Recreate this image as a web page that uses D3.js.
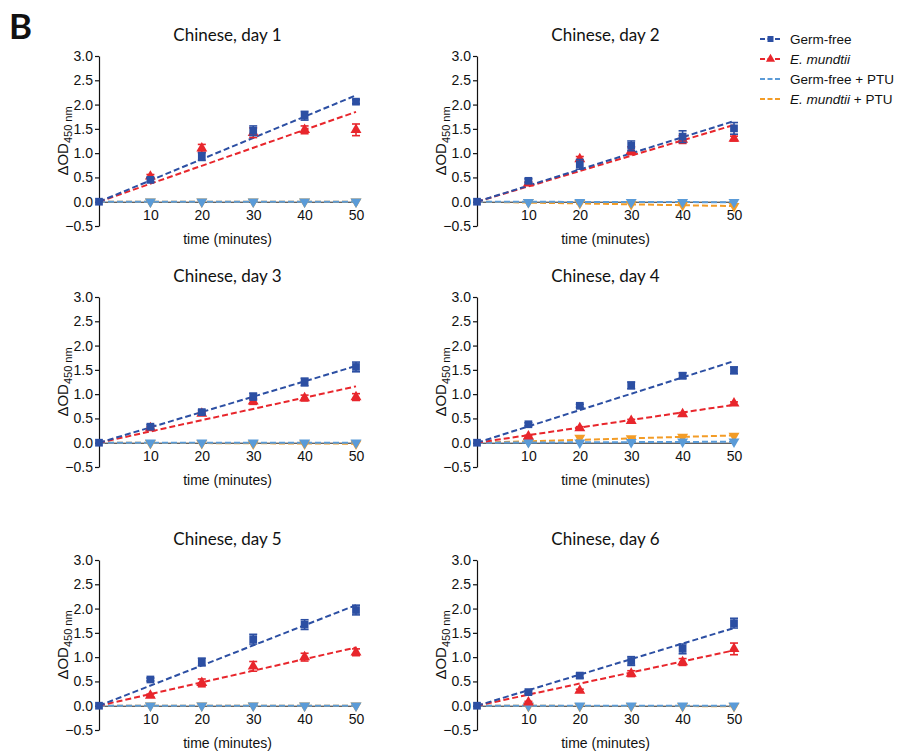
<!DOCTYPE html>
<html>
<head>
<meta charset="utf-8">
<script src="https://cdn.jsdelivr.net/npm/d3@7"></script>
<style>
  body { margin: 0; background: #fff; }
  svg { display: block; }
  text { font-family: "Liberation Sans", Arial, sans-serif; fill: #111; }
  .title { font-family: Lato, "Open Sans", sans-serif; font-size: 17px; }
</style>
</head>
<body>
<svg id="chart" width="898" height="751"></svg>
<script>
// Time points (minutes)
const times = [0, 10, 20, 30, 40, 50];
const panelTitles = ["Chinese, day 1", "Chinese, day 2", "Chinese, day 3",
                     "Chinese, day 4", "Chinese, day 5", "Chinese, day 6"];
const yTicks = [-0.5, 0.0, 0.5, 1.0, 1.5, 2.0, 2.5, 3.0];
const xTicks = [10, 20, 30, 40, 50];

// Mean ΔOD450 per panel
const germFree = [
  [0, 0.45, 0.93, 1.46, 1.77, 2.06],
  [0, 0.43, 0.77, 1.15, 1.34, 1.51],
  [0, 0.33, 0.63, 0.95, 1.25, 1.56],
  [0, 0.38, 0.76, 1.18, 1.38, 1.49],
  [0, 0.54, 0.90, 1.37, 1.67, 1.97],
  [0, 0.28, 0.62, 0.92, 1.17, 1.70]
];
const germFreeErr = [
  [0, 0.04, 0.08, 0.10, 0.09, 0.04],
  [0, 0.04, 0.10, 0.10, 0.12, 0.12],
  [0, 0.04, 0.04, 0.07, 0.08, 0.10],
  [0, 0.03, 0.03, 0.07, 0.06, 0.07],
  [0, 0.03, 0.08, 0.10, 0.10, 0.10],
  [0, 0.03, 0.05, 0.09, 0.10, 0.10]
];
const mundtii = [
  [0, 0.52, 1.10, 1.42, 1.48, 1.48],
  [0, 0.38, 0.88, 1.05, 1.28, 1.30],
  [0, 0.30, 0.60, 0.85, 0.92, 0.94],
  [0, 0.13, 0.30, 0.45, 0.59, 0.81],
  [0, 0.21, 0.47, 0.81, 1.00, 1.10],
  [0, 0.07, 0.31, 0.66, 0.90, 1.17]
];
const mundtiiErr = [
  [0, 0.04, 0.08, 0.10, 0.08, 0.12],
  [0, 0.03, 0.05, 0.08, 0.08, 0.05],
  [0, 0.03, 0.03, 0.06, 0.06, 0.07],
  [0, 0.02, 0.03, 0.03, 0.03, 0.03],
  [0, 0.03, 0.08, 0.10, 0.08, 0.07],
  [0, 0.02, 0.03, 0.06, 0.07, 0.12]
];
const germFreePTU = [
  [0, 0, 0, 0, 0, 0],
  [0, -0.01, -0.01, -0.01, -0.01, -0.01],
  [0, 0, 0, 0, 0, 0],
  [0, 0.01, 0.00, 0.01, 0.02, 0.02],
  [0, 0, 0, 0, 0, 0],
  [0, 0, 0, 0, 0, 0]
];
const mundtiiPTU = [
  [0, 0, 0, 0, 0, 0],
  [0, -0.01, -0.03, -0.05, -0.07, -0.09],
  [0, -0.01, -0.01, -0.02, -0.02, -0.02],
  [0, 0.02, 0.10, 0.09, 0.12, 0.14],
  [0, 0, 0, 0, 0, 0],
  [0, -0.01, -0.01, -0.01, -0.01, -0.01]
];

// Linear fits through the origin: fitted ΔOD450 at 50 min
const fitGermFree    = [2.19, 1.66, 1.58, 1.68, 2.07, 1.60];
const fitMundtii     = [1.85, 1.58, 1.16, 0.78, 1.20, 1.14];
const fitGermFreePTU = [0.00, -0.01, 0.00, 0.02, 0.00, 0.00];
const fitMundtiiPTU  = [0.00, -0.09, -0.02, 0.15, 0.00, -0.01];

const legendLabels = [
  ["Germ-free", ""],
  ["E. mundtii", ""],
  ["Germ-free", " + PTU"],
  ["E. mundtii", " + PTU"]
];

const colors = {
  gf: "#2c4fa3",
  em: "#e8262c",
  gfp: "#5a9bd8",
  emp: "#f39c26"
};

const svg = d3.select("#chart");

// Panel letter
svg.append("text").attr("x", 9).attr("y", 39)
  .style("font-family", "Lato, 'Open Sans', sans-serif")
  .style("font-weight", "bold").style("font-size", "35px").text("B");

const colX = [99, 477];
const rowY = [56, 297, 560];
const plotW = 257, plotH = 170;

const series = [
  { key: "emp", vals: mundtiiPTU, err: null, fit: fitMundtiiPTU, symbol: "down" },
  { key: "gfp", vals: germFreePTU, err: null, fit: fitGermFreePTU, symbol: "down" },
  { key: "em", vals: mundtii, err: mundtiiErr, fit: fitMundtii, symbol: "up" },
  { key: "gf", vals: germFree, err: germFreeErr, fit: fitGermFree, symbol: "square" }
];

function symbolPath(kind) {
  if (kind === "square") return d3.symbol().type(d3.symbolSquare).size(60)();
  return d3.symbol().type(d3.symbolTriangle).size(52)();
}

panelTitles.forEach((title, p) => {
  const x0 = colX[p % 2], y0 = rowY[Math.floor(p / 2)];
  const x = d3.scaleLinear().domain([0, 50]).range([x0, x0 + plotW]);
  const y = d3.scaleLinear().domain([-0.5, 3.0]).range([y0 + plotH, y0]);
  const g = svg.append("g");

  // title
  g.append("text").attr("class", "title")
    .attr("x", x(25)).attr("y", y0 - 15).attr("text-anchor", "middle").text(title);

  // y axis
  const yAxis = d3.axisLeft(y).tickValues(yTicks).tickFormat(d3.format(".1f"))
    .tickSize(4).tickSizeOuter(0).tickPadding(2);
  const ya = g.append("g").attr("transform", `translate(${x0},0)`).call(yAxis);
  ya.select(".domain").attr("stroke", "#111").attr("stroke-width", 1.2);
  ya.selectAll(".tick line").attr("stroke", "#111").attr("stroke-width", 1.2);
  ya.selectAll(".tick text").style("font-size", "14px")
    .style("font-family", "'Liberation Sans', Arial, sans-serif").attr("fill", "#111");

  // x axis crossing at y = 0
  const xAxis = d3.axisBottom(x).tickValues(xTicks).tickSize(3).tickSizeOuter(0).tickPadding(5);
  const xa = g.append("g").attr("transform", `translate(0,${y(0)})`).call(xAxis);
  xa.select(".domain").attr("stroke", "#222").attr("stroke-width", 1);
  xa.selectAll(".tick line").attr("stroke", "#222");
  xa.selectAll(".tick text").style("font-size", "14px")
    .style("font-family", "'Liberation Sans', Arial, sans-serif").attr("fill", "#111");

  // axis titles
  g.append("text").attr("x", x(25)).attr("y", y0 + plotH + 18)
    .attr("text-anchor", "middle").style("font-size", "14px").text("time (minutes)");
  const yl = g.append("text")
    .attr("transform", `translate(${x0 - 31},${y(1.25)}) rotate(-90)`)
    .attr("text-anchor", "middle").style("font-size", "15px");
  yl.append("tspan").text("ΔOD");
  yl.append("tspan").attr("dy", 4).style("font-size", "11px").text("450 nm");

  // fit lines
  series.forEach(s => {
    g.append("line")
      .attr("x1", x(0)).attr("y1", y(0))
      .attr("x2", x(50)).attr("y2", y(s.fit[p]))
      .attr("stroke", colors[s.key]).attr("stroke-width", 2)
      .attr("stroke-dasharray", "6,3");
  });

  // points with error bars
  series.forEach(s => {
    const vals = s.vals[p];
    const pts = g.append("g");
    if (s.err) {
      const errs = s.err[p];
      times.forEach((t, i) => {
        if (!errs[i]) return;
        const cx = x(t), yt = y(vals[i] + errs[i]), yb = y(vals[i] - errs[i]);
        const c = colors[s.key];
        pts.append("line").attr("x1", cx).attr("x2", cx).attr("y1", yt).attr("y2", yb)
          .attr("stroke", c).attr("stroke-width", 1.6);
        pts.append("line").attr("x1", cx - 4).attr("x2", cx + 4).attr("y1", yt).attr("y2", yt)
          .attr("stroke", c).attr("stroke-width", 1.6);
        pts.append("line").attr("x1", cx - 4).attr("x2", cx + 4).attr("y1", yb).attr("y2", yb)
          .attr("stroke", c).attr("stroke-width", 1.6);
      });
    }
    times.forEach((t, i) => {
      if (t === 0 && s.key !== "gf") return;
      const rot = s.symbol === "down" ? " rotate(180)" : "";
      pts.append("path").attr("d", symbolPath(s.symbol))
        .attr("transform", `translate(${x(t)},${y(vals[i])})${rot}`)
        .attr("fill", colors[s.key]);
    });
  });
});

// legend
const legend = svg.append("g");
const legendKeys = ["gf", "em", "gfp", "emp"];
const legendSym = ["square", "up", null, null];
legendKeys.forEach((k, i) => {
  const ly = 39 + i * 20;
  legend.append("line").attr("x1", 760).attr("x2", 781).attr("y1", ly).attr("y2", ly)
    .attr("stroke", colors[k]).attr("stroke-width", 2).attr("stroke-dasharray", "5,2.5");
  if (legendSym[i]) {
    legend.append("path").attr("d", d3.symbol()
        .type(legendSym[i] === "square" ? d3.symbolSquare : d3.symbolTriangle).size(36)())
      .attr("transform", `translate(770.5,${ly})`).attr("fill", colors[k]);
  }
  const t = legend.append("text").attr("x", 790).attr("y", ly + 5).style("font-size", "13.5px");
  t.append("tspan").style("font-style", k === "em" || k === "emp" ? "italic" : "normal")
    .text(legendLabels[i][0]);
  t.append("tspan").text(legendLabels[i][1]);
});
</script>
</body>
</html>
